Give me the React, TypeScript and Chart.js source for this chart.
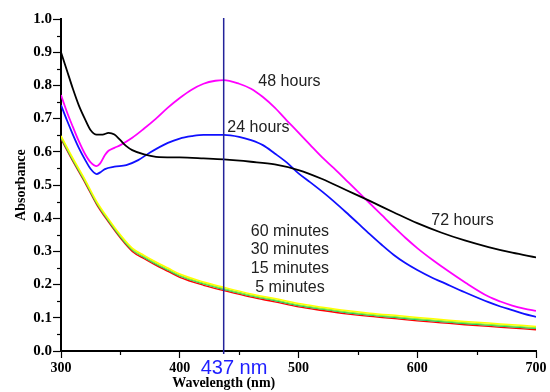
import React, { useEffect, useRef } from "react";
import { Chart, registerables } from "chart.js";

Chart.register(...registerables);

// Wavelength (nm) sample points and absorbance values
const wl72 = [300, 305, 310, 315, 320, 325, 330, 335, 340, 345, 350, 355, 360, 370, 380, 400, 420, 437, 460, 480, 500, 520, 540, 560, 580, 600, 620, 640, 660, 680, 700];
const abs72 = [0.9, 0.845, 0.79, 0.74, 0.7, 0.665, 0.652, 0.652, 0.657, 0.652, 0.635, 0.617, 0.605, 0.592, 0.585, 0.583, 0.58, 0.577, 0.57, 0.562, 0.545, 0.518, 0.485, 0.452, 0.418, 0.385, 0.357, 0.333, 0.313, 0.296, 0.282];

const wl48 = [300, 305, 310, 315, 320, 325, 330, 333, 337, 340, 345, 350, 360, 370, 380, 390, 400, 410, 420, 430, 437, 450, 460, 470, 480, 490, 500, 510, 520, 530, 540, 550, 560, 570, 580, 590, 600, 613, 620, 641, 660, 670, 680, 690, 700];
const abs48 = [0.771, 0.72, 0.675, 0.632, 0.595, 0.568, 0.557, 0.565, 0.59, 0.603, 0.612, 0.62, 0.642, 0.67, 0.7, 0.733, 0.762, 0.787, 0.805, 0.814, 0.816, 0.805, 0.79, 0.765, 0.733, 0.695, 0.658, 0.62, 0.583, 0.55, 0.515, 0.48, 0.445, 0.41, 0.375, 0.341, 0.31, 0.274, 0.256, 0.205, 0.164, 0.149, 0.137, 0.128, 0.121];

const wl24 = [300, 305, 310, 315, 320, 325, 330, 333, 337, 345, 355, 365, 375, 390, 400, 410, 420, 437, 450, 460, 470, 480, 490, 500, 510, 520, 530, 540, 550, 560, 570, 580, 590, 600, 613, 620, 640, 660, 670, 680, 690, 700];
const abs24 = [0.741, 0.695, 0.652, 0.612, 0.578, 0.548, 0.533, 0.538, 0.548, 0.555, 0.56, 0.575, 0.598, 0.627, 0.64, 0.647, 0.651, 0.651, 0.645, 0.635, 0.62, 0.595, 0.568, 0.535, 0.508, 0.48, 0.45, 0.418, 0.385, 0.352, 0.32, 0.29, 0.265, 0.244, 0.22, 0.209, 0.177, 0.147, 0.134, 0.123, 0.112, 0.103];

const wlMin = [300, 310, 320, 330, 340, 350, 360, 370, 380, 390, 400, 420, 437, 460, 480, 500, 520, 540, 560, 585, 600, 620, 640, 660, 680, 700];
const abs5min = [0.638, 0.571, 0.508, 0.441, 0.388, 0.34, 0.3, 0.278, 0.258, 0.24, 0.222, 0.198, 0.182, 0.162, 0.148, 0.133, 0.122, 0.112, 0.104, 0.096, 0.091, 0.085, 0.079, 0.074, 0.069, 0.064];
const abs15min = [0.642, 0.575, 0.512, 0.445, 0.392, 0.344, 0.304, 0.282, 0.262, 0.244, 0.226, 0.202, 0.186, 0.166, 0.152, 0.137, 0.126, 0.116, 0.108, 0.1, 0.095, 0.089, 0.083, 0.078, 0.073, 0.068];
const abs30min = [0.644, 0.577, 0.514, 0.447, 0.394, 0.346, 0.306, 0.284, 0.264, 0.246, 0.228, 0.204, 0.188, 0.168, 0.154, 0.139, 0.128, 0.118, 0.11, 0.102, 0.097, 0.091, 0.085, 0.08, 0.075, 0.07];
const abs60min = [0.648, 0.581, 0.518, 0.451, 0.398, 0.35, 0.31, 0.288, 0.268, 0.25, 0.232, 0.208, 0.192, 0.172, 0.158, 0.143, 0.132, 0.122, 0.114, 0.106, 0.101, 0.095, 0.089, 0.084, 0.079, 0.074];

const xTicks = [300, 400, 500, 600, 700];
const yTicks = [0, 0.1, 0.2, 0.3, 0.4, 0.5, 0.6, 0.7, 0.8, 0.9, 1.0];
const markerWavelength = 437;
const markerLabel = "437 nm";

const curveLabels = ["48 hours", "24 hours", "72 hours", "60 minutes", "30 minutes", "15 minutes", "5 minutes"];
const labelWl = [492.4, 466.3, 638.1, 492.8, 492.8, 492.8, 492.8];
const labelAbs = [0.81, 0.673, 0.392, 0.361, 0.304, 0.247, 0.19];

const xTitle = "Wavelength (nm)";
const yTitle = "Absorbance";

const pts = (xs: number[], ys: number[]) => xs.map((x, i) => ({ x, y: ys[i] }));

const SERIF_BOLD = 'bold 14px "Liberation Serif", "Times New Roman", serif';

export default function App() {
  const ref = useRef<HTMLCanvasElement | null>(null);

  useEffect(() => {
    document.body.style.margin = "0";
    const canvas = ref.current;
    if (!canvas) return;

    const overlay = {
      id: "overlay",
      afterDraw(chart: any) {
        const ctx = chart.ctx;
        const xs = chart.scales.x;
        const ys = chart.scales.y;
        const area = chart.chartArea;
        ctx.save();
        // minor ticks
        ctx.strokeStyle = "#000";
        ctx.lineWidth = 1.2;
        for (let i = 0; i < yTicks.length - 1; i++) {
          const v = (yTicks[i] + yTicks[i + 1]) / 2;
          const py = Math.round(ys.getPixelForValue(v)) + 0.5;
          ctx.beginPath();
          ctx.moveTo(area.left - 4, py);
          ctx.lineTo(area.left, py);
          ctx.stroke();
        }
        for (let i = 0; i < xTicks.length - 1; i++) {
          const v = (xTicks[i] + xTicks[i + 1]) / 2;
          const px = Math.round(xs.getPixelForValue(v)) + 0.5;
          ctx.beginPath();
          ctx.moveTo(px, area.bottom);
          ctx.lineTo(px, area.bottom + 4);
          ctx.stroke();
        }
        // marker line
        const mx = xs.getPixelForValue(markerWavelength);
        ctx.strokeStyle = "#23239a";
        ctx.lineWidth = 1.5;
        ctx.beginPath();
        ctx.moveTo(mx, area.top - 1);
        ctx.lineTo(mx, area.bottom + 3);
        ctx.stroke();
        // marker label
        ctx.fillStyle = "#1e1eff";
        ctx.font = '20px "Liberation Sans", Arial, sans-serif';
        ctx.textAlign = "left";
        ctx.textBaseline = "middle";
        ctx.fillText(markerLabel, mx - 23, 368);
        // curve labels
        ctx.fillStyle = "#222";
        ctx.font = '16px "Liberation Sans", Arial, sans-serif';
        ctx.textAlign = "center";
        for (let i = 0; i < curveLabels.length; i++) {
          ctx.fillText(curveLabels[i], xs.getPixelForValue(labelWl[i]), ys.getPixelForValue(labelAbs[i]));
        }
        // axis titles
        ctx.fillStyle = "#000";
        ctx.font = SERIF_BOLD;
        ctx.textAlign = "center";
        ctx.fillText(xTitle, mx, 383);
        ctx.translate(21, (area.top + area.bottom) / 2);
        ctx.rotate(-Math.PI / 2);
        ctx.fillText(yTitle, 0, 0);
        ctx.restore();
      },
    };

    const line = (data: any, color: string, width = 1.8) => ({
      data,
      borderColor: color,
      borderWidth: width,
      pointRadius: 0,
      fill: false,
      cubicInterpolationMode: "monotone" as const,
    });

    const chart = new Chart(canvas, {
      type: "line",
      data: {
        datasets: [
          line(pts(wlMin, abs60min), "#ffff00", 1.5),
          line(pts(wlMin, abs30min), "#88ee44", 1.4),
          line(pts(wlMin, abs15min), "#00c060", 1.4),
          line(pts(wlMin, abs5min), "#ff0000", 1.3),
          line(pts(wl72, abs72), "#000000"),
          line(pts(wl24, abs24), "#1010ff"),
          line(pts(wl48, abs48), "#ff00ff"),
        ],
      },
      options: {
        responsive: false,
        animation: false,
        layout: { padding: { top: 19, right: 14, left: 0, bottom: 0 } },
        plugins: { legend: { display: false }, tooltip: { enabled: false } },
        scales: {
          x: {
            type: "linear",
            min: 300,
            max: 700,
            afterFit: (s: any) => { s.height = 41; },
            afterBuildTicks: (s: any) => { s.ticks = xTicks.map((v) => ({ value: v })); },
            ticks: { color: "#000", font: { family: '"Liberation Serif", serif', size: 14, weight: "bold" }, padding: 2, maxRotation: 0 },
            grid: { drawOnChartArea: false, drawTicks: true, tickLength: 7, tickWidth: 1.2, tickColor: "#000" },
            border: { display: true, color: "#000", width: 2 },
          },
          y: {
            min: 0,
            max: 1,
            afterFit: (s: any) => { s.width = 61; },
            afterBuildTicks: (s: any) => { s.ticks = yTicks.map((v) => ({ value: v })); },
            ticks: {
              color: "#000",
              font: { family: '"Liberation Serif", serif', size: 15, weight: "bold" },
              padding: 1,
              callback: (v: any) => Number(v).toFixed(1),
            },
            grid: { drawOnChartArea: false, drawTicks: true, tickLength: 8, tickWidth: 1.2, tickColor: "#000" },
            border: { display: true, color: "#000", width: 2 },
          },
        },
      },
      plugins: [overlay],
    });
    return () => chart.destroy();
  }, []);

  return (
    <div style={{ width: 550, height: 392, background: "#fff" }}>
      <canvas ref={ref} width={550} height={392} style={{ display: "block" }} />
    </div>
  );
}
